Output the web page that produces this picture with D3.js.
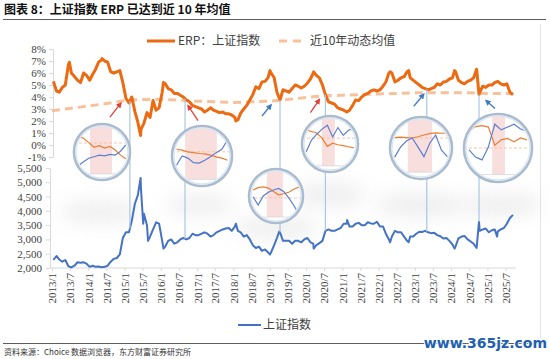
<!DOCTYPE html>
<html><head><meta charset="utf-8">
<script src="https://cdn.jsdelivr.net/npm/d3@7"></script>
<style>body{margin:0;background:#fff}svg{display:block}</style>
</head><body>
<svg id="c" width="550" height="359"></svg>
<script>
// ---------- DATA ----------
const titleText = "图表 8：上证指数 ERP 已达到近 10 年均值";
const sourceText = "资料来源：Choice 数据浏览器，东方财富证券研究所";
const erpLegend = "ERP：上证指数";
const meanLegend = "近10年动态均值";
const indexLegend = "上证指数";
const startYear = 2013;

// monthly ERP (%), 2013/1 .. 2025/9
const erpValues = [
 5.3,4.5,4.4,4.8,5.0,6.7,6.0,5.7,5.4,5.2,6.0,5.8,
 5.4,5.9,6.3,6.9,7.1,7.0,6.9,6.1,6.0,6.1,6.2,5.2,
 3.9,3.5,4.0,2.8,1.9,1.3,1.8,2.7,2.3,3.7,2.9,3.1,
 4.4,5.1,4.7,4.6,4.3,4.3,4.15,4.0,3.75,3.6,3.3,3.2,
 3.1,3.0,2.75,2.9,3.1,2.9,2.8,2.7,2.75,2.6,2.6,2.5,
 2.3,2.1,2.65,3.0,3.3,3.75,4.2,4.85,4.7,5.25,5.3,5.6,
 6.0,5.6,4.4,3.75,4.6,4.5,4.4,4.7,5.0,4.9,4.75,4.9,
 5.15,5.5,6.0,5.8,5.6,5.0,4.2,3.6,3.5,3.4,3.1,3.0,
 2.9,2.75,2.9,3.3,3.75,3.7,4.0,4.2,4.3,4.5,4.6,4.5,
 4.6,4.9,5.25,6.0,6.0,5.25,5.4,5.6,5.7,6.1,5.6,5.4,
 5.2,5.0,4.8,4.7,4.6,4.7,4.8,5.1,5.0,5.25,5.3,5.5,
 5.6,6.1,5.4,5.2,5.1,5.3,5.4,5.6,6.25,4.4,4.9,4.8,
 5.0,5.0,5.2,5.3,5.1,5.0,5.1,4.4,4.2
];
const erpExtremes = [["2013-06-25",6.9],["2014-05-20",7.2],["2015-06-12",0.8],["2016-01-28",5.2],["2018-01-26",2.0],["2019-01-04",6.2],["2020-03-19",6.1],
 ["2022-04-27",6.1],["2022-10-31",6.2],["2024-02-05",6.2],["2024-09-13",6.3],["2024-10-08",4.2]];

// monthly Shanghai Composite, 2013/1 .. 2025/9
const indexValues = [
 2280,2420,2300,2220,2280,2060,2020,2080,2200,2180,2200,2150,
 2040,2080,2040,2050,2030,2040,2080,2220,2320,2350,2480,3050,
 3250,3250,3650,4250,4550,4800,3900,3500,3100,3350,3600,3550,
 2950,2750,2950,3000,2850,2900,3000,3050,3000,3050,3200,3150,
 3150,3200,3250,3200,3100,3150,3250,3300,3350,3380,3400,3300,
 3450,3300,3250,3100,3150,3000,2800,2700,2750,2600,2650,2550,
 2550,2800,3050,3250,2950,2950,2950,2850,2950,2950,2900,3000,
 3050,2900,2850,2800,2870,2950,3300,3350,3300,3300,3350,3400,
 3550,3550,3450,3450,3550,3580,3500,3500,3600,3560,3550,3620,
 3450,3450,3200,3000,3100,3300,3250,3250,3100,2950,3100,3100,
 3200,3270,3260,3300,3250,3220,3230,3150,3110,3030,3050,2950,
 2820,2760,3040,3100,3120,3000,2930,2850,2750,3300,3350,3380,
 3250,3320,3350,3280,3350,3400,3550,3750,3860
];
const indexExtremes = [["2015-06-12",5150],["2015-07-08",3550],["2015-08-26",2950],["2016-01-28",2680],
 ["2018-01-26",3550],["2019-01-04",2470],["2019-04-08",3280],["2020-03-19",2680],["2021-02-18",3680],
 ["2022-04-27",2900],["2022-10-31",2900],["2024-02-05",2680],["2024-09-13",2700],["2024-10-08",3620],
 ["2025-04-08",3100]];

// 10-year rolling mean of ERP (%)
const meanDates = ["2013-01-01","2013-07-01","2014-01-01","2014-07-01","2015-01-01","2015-07-01","2016-01-01",
 "2016-07-01","2017-01-01","2017-07-01","2018-01-01","2018-07-01","2019-01-01","2019-07-01","2020-01-01",
 "2020-07-01","2021-01-01","2021-07-01","2022-01-01","2022-07-01","2023-01-01","2023-07-01","2024-01-01",
 "2024-07-01","2025-01-01","2025-07-01","2025-09-15"];
const meanValues = [2.85,3.05,3.25,3.45,3.7,3.8,3.8,3.75,3.65,3.6,3.55,3.6,3.65,3.8,3.95,4.1,4.15,4.2,4.25,4.3,4.35,4.35,4.35,4.35,4.3,4.3,4.25];

const xTickLabels = ["2013/1","2013/7","2014/1","2014/7","2015/1","2015/7","2016/1","2016/7","2017/1","2017/7",
 "2018/1","2018/7","2019/1","2019/7","2020/1","2020/7","2021/1","2021/7","2022/1","2022/7","2023/1","2023/7",
 "2024/1","2024/7","2025/1","2025/7"];
const erpTicks = [8,7,6,5,4,3,2,1,0,-1];
const indexTicks = [5500,5000,4500,4000,3500,3000,2500,2000];

// magnifier insets: dates they point at, and the small series they show
const insetDates = ["2015-02-24","2016-09-01","2019-04-15","2020-07-15","2023-05-01","2024-10-08"];
const insetOrange = [
 [90,85,74,62,66,60,64,55,42,33],
 [66,64,60,58,56,55,52,48,45,40],
 [66,72,74,71,62,53,56,60,68,74],
 [86,82,78,65,44,52,48,46,43,40],
 [74,75,74,73,76,80,83,85,84,85],
 [86,95,97,94,56,67,70,63,71,67]];
const insetBlue = [
 [15,25,34,38,42,40,44,42,52,68],
 [28,50,45,34,33,40,48,58,66,88],
 [48,26,50,60,66,70,62,45,25,2],
 [30,60,75,88,98,68,92,72,85,90],
 [29,52,66,73,52,30,61,80,45,30],
 [46,31,25,52,100,88,94,100,90,86]];
const insetMean = [73,60,45,65,73,50];
const insetShade = [[0.25,0.71],[0.17,0.79],[0.30,0.65],[0.33,0.60],[0.25,0.71],[0.40,0.62]];

// ---------- LAYOUT ----------
const insetLayout = [
 {cx:102,cy:152,r:28, arrow:"red", tip:[-9,2], tail:[-11,14], sh:[100,212,40,12]},
 {cx:202,cy:156,r:30, arrow:"red", tip:[3,7], tail:[10,15], sh:[200,205,34,11]},
 {cx:276,cy:196,r:27, arrow:"blue", tip:[-9,5], tail:[-9,11], sh:[276,228,42,12]},
 {cx:330,cy:144,r:28, arrow:"red", tip:[-6,5], tail:[-9,13], sh:[330,195,36,13]},
 {cx:421,cy:148,r:31, arrow:"blue", tip:[-3,5], tail:[-10,12], sh:[420,205,45,13]},
 {cx:498,cy:148,r:34, arrow:"blue", tip:[7,6], tail:[9,8], sh:[502,205,40,12]}];
const colors = {erp:"#ec6a12", mean:"#f7c19c", index:"#4472c4", axis:"#d9d9d9", text:"#404040",
 conn:"#aac6e2", red:"#e2403a", blue:"#3d7cc2", ring:"#a9bbce", pink:"#f9dede"};

const parse = d3.timeParse("%Y-%m-%d");
function series(vals, extras){
  const pts = vals.map((v,i)=>({d:new Date(startYear,i,15), v}));
  extras.forEach(([s,v])=>pts.push({d:parse(s), v}));
  return pts.sort((a,b)=>a.d-b.d);
}
const erpPts = series(erpValues, erpExtremes);
const idxPts = series(indexValues, indexExtremes);
const meanPts = meanDates.map((s,i)=>({d:parse(s), v:meanValues[i]}));
const bis = d3.bisector(p=>p.d).left;
function valueAt(pts, date){
  const i = Math.max(1, Math.min(pts.length-1, bis(pts, date)));
  const a = pts[i-1], b = pts[i];
  const t = (date-a.d)/(b.d-a.d);
  return a.v + t*(b.v-a.v);
}

const svg = d3.select("#c");
const defs = svg.append("defs");
defs.append("filter").attr("id","blur").attr("x","-60%").attr("y","-60%").attr("width","220%").attr("height","220%")
  .append("feGaussianBlur").attr("stdDeviation",9);
["red","blue"].forEach(c=>{
  defs.append("marker").attr("id","ah-"+c).attr("viewBox","0 0 8 8").attr("refX",6).attr("refY",4)
   .attr("markerWidth",6).attr("markerHeight",6).attr("markerUnits","userSpaceOnUse").attr("orient","auto")
   .append("path").attr("d","M0,0 L8,4 L0,8 Z").attr("fill",colors[c]);
});

const x = d3.scaleTime().domain([new Date(2013,0,1), new Date(2025,8,15)]).range([52,513]);
const yE = d3.scaleLinear().domain([-1,8]).range([157,49]);
const yI = d3.scaleLinear().domain([2000,5500]).range([268,168]);

// title
svg.append("text").attr("x",4).attr("y",14).text(titleText)
  .attr("font-family","'Noto Sans CJK SC',sans-serif").attr("font-weight","bold").attr("font-size",12).attr("fill","#111");
svg.append("line").attr("x1",3).attr("x2",546).attr("y1",19.5).attr("y2",19.5).attr("stroke","#333").attr("stroke-width",0.8);

// frame edge
svg.append("line").attr("x1",540.5).attr("x2",540.5).attr("y1",24).attr("y2",338).attr("stroke","#e6e6e6");

// shadows
insetLayout.forEach(L=>{
  svg.append("ellipse").attr("cx",L.sh[0]).attr("cy",L.sh[1]).attr("rx",L.sh[2]).attr("ry",L.sh[3])
    .attr("fill","#aaa").attr("opacity",0.18).attr("filter","url(#blur)");
});

// axes
const axFont = "'Liberation Serif','Times New Roman',serif";
function styleAxis(g){
  g.select(".domain").attr("stroke",colors.axis);
  g.selectAll(".tick line").attr("stroke",colors.axis);
  g.selectAll("text").attr("font-family",axFont).attr("font-size",11).attr("fill",colors.text);
}
svg.append("g").attr("transform","translate(53,0)")
  .call(d3.axisLeft(yE).tickValues(erpTicks).tickFormat(d=>d+"%").tickSize(4).tickPadding(3).tickSizeOuter(0))
  .call(styleAxis);
svg.append("g").attr("transform","translate(50,0)")
  .call(d3.axisLeft(yI).tickValues(indexTicks).tickFormat(d3.format(",")).tickSize(4).tickPadding(4).tickSizeOuter(0))
  .call(styleAxis);
const tickDates = xTickLabels.map(s=>{const [yy,mm]=s.split("/"); return new Date(+yy, +mm-1, 1);});
const gx = svg.append("g").attr("transform","translate(0,268)")
  .call(d3.axisBottom(x).tickValues(tickDates).tickFormat((d,i)=>xTickLabels[i]).tickSize(3).tickSizeOuter(0))
  .call(styleAxis);
gx.select(".domain").remove();
gx.append("line").attr("x1",x.range()[0]-2).attr("x2",x.range()[1]+3).attr("stroke",colors.axis);
gx.selectAll(".tick text").attr("transform","rotate(-90)").attr("text-anchor","end")
  .attr("x",-5).attr("y",0).attr("dy","0.35em");

// lines
const lineE = d3.line().x(p=>x(p.d)).y(p=>yE(p.v));
const lineI = d3.line().x(p=>x(p.d)).y(p=>yI(p.v));
svg.append("path").attr("d",lineE(meanPts)).attr("fill","none").attr("stroke",colors.mean)
  .attr("stroke-width",3).attr("stroke-dasharray","8,5");
svg.append("path").attr("d",lineE(erpPts)).attr("fill","none").attr("stroke",colors.erp)
  .attr("stroke-width",3).attr("stroke-linejoin","round");
svg.append("path").attr("d",lineI(idxPts)).attr("fill","none").attr("stroke",colors.index)
  .attr("stroke-width",2).attr("stroke-linejoin","round");

// connectors, insets, arrows
insetDates.forEach((s,k)=>{
  const L = insetLayout[k], d = parse(s);
  const cxp = x(d), top = yE(valueAt(erpPts,d)), bot = yI(valueAt(idxPts,d));
  svg.append("line").attr("x1",cxp).attr("x2",cxp).attr("y1",top).attr("y2",bot)
    .attr("stroke",colors.conn).attr("stroke-width",1.2);
  const tx = cxp+L.tip[0], ty = top+L.tip[1];
  svg.append("line").attr("x1",tx+L.tail[0]).attr("y1",ty+L.tail[1]).attr("x2",tx).attr("y2",ty)
    .attr("stroke",colors[L.arrow]).attr("stroke-width",1.3).attr("marker-end","url(#ah-"+L.arrow+")");
  const g = svg.append("g");
  defs.append("clipPath").attr("id","clip"+k).append("circle").attr("cx",L.cx).attr("cy",L.cy).attr("r",L.r);
  g.append("circle").attr("cx",L.cx).attr("cy",L.cy).attr("r",L.r).attr("fill","#fff");
  const inner = g.append("g").attr("clip-path","url(#clip"+k+")");
  const n = insetOrange[k].length;
  const ix = d3.scaleLinear().domain([0,n-1]).range([L.cx-0.85*L.r, L.cx+0.85*L.r]);
  const iy = d3.scaleLinear().domain([0,100]).range([L.cy+0.7*L.r, L.cy-0.7*L.r]);
  const sx = d3.scaleLinear().domain([0,1]).range([L.cx-0.85*L.r, L.cx+0.85*L.r]);
  inner.append("rect").attr("x",sx(insetShade[k][0])).attr("width",sx(insetShade[k][1])-sx(insetShade[k][0]))
    .attr("y",L.cy-L.r).attr("height",1.78*L.r).attr("fill",colors.pink);
  inner.append("line").attr("x1",L.cx-L.r).attr("x2",L.cx+L.r).attr("y1",iy(insetMean[k])).attr("y2",iy(insetMean[k]))
    .attr("stroke",colors.mean).attr("stroke-width",0.9).attr("stroke-dasharray","3,2");
  inner.append("line").attr("x1",L.cx-L.r).attr("x2",L.cx+L.r).attr("y1",L.cy+0.78*L.r).attr("y2",L.cy+0.78*L.r)
    .attr("stroke","#ccc").attr("stroke-width",0.6);
  const il = d3.line().x((v,i)=>ix(i)).y(v=>iy(v));
  inner.append("path").attr("d",il(insetOrange[k])).attr("fill","none").attr("stroke","#ed7d31").attr("stroke-width",1.2);
  inner.append("path").attr("d",il(insetBlue[k])).attr("fill","none").attr("stroke","#5b7fd0").attr("stroke-width",1.2);
  g.append("circle").attr("cx",L.cx).attr("cy",L.cy).attr("r",L.r).attr("fill","none")
    .attr("stroke",colors.ring).attr("stroke-width",2.6);
  g.append("circle").attr("cx",L.cx).attr("cy",L.cy).attr("r",L.r-2).attr("fill","none")
    .attr("stroke","#dde7f1").attr("stroke-width",1.4);
});

// legends
const lgFont = "'Noto Sans CJK SC',sans-serif";
svg.append("line").attr("x1",147).attr("x2",175).attr("y1",41).attr("y2",41).attr("stroke",colors.erp).attr("stroke-width",3);
svg.append("text").attr("x",178).attr("y",41).attr("dy","0.35em").text(erpLegend)
  .attr("font-family",lgFont).attr("font-size",12).attr("fill",colors.text);
svg.append("line").attr("x1",279).attr("x2",303).attr("y1",41).attr("y2",41).attr("stroke",colors.mean)
  .attr("stroke-width",3).attr("stroke-dasharray","8,6");
svg.append("text").attr("x",310).attr("y",41).attr("dy","0.35em").text(meanLegend)
  .attr("font-family",lgFont).attr("font-size",12).attr("fill",colors.text);
svg.append("line").attr("x1",238).attr("x2",261).attr("y1",325).attr("y2",325).attr("stroke",colors.index).attr("stroke-width",2);
svg.append("text").attr("x",263).attr("y",325).attr("dy","0.35em").text(indexLegend)
  .attr("font-family",lgFont).attr("font-size",12).attr("fill",colors.text);

// footer
svg.append("line").attr("x1",3).attr("x2",546).attr("y1",343.5).attr("y2",343.5).attr("stroke","#333").attr("stroke-width",0.8);
svg.append("text").attr("x",4).attr("y",355).text(sourceText)
  .attr("font-family",lgFont).attr("font-size",8).attr("fill","#333");
svg.append("text").attr("x",547).attr("y",348).attr("text-anchor","end").text("www.365jz.com")
  .attr("font-family","'DejaVu Sans',sans-serif").attr("font-weight","bold").attr("font-size",14)
  .attr("fill","#2160b0").attr("stroke","#fff").attr("stroke-width",2).attr("paint-order","stroke");
</script>
</body></html>
